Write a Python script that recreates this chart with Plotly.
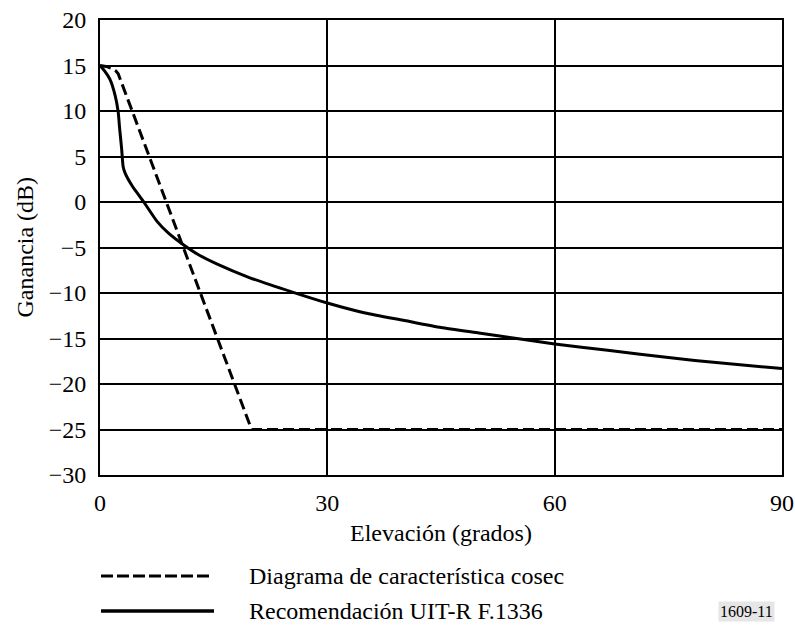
import plotly.graph_objects as go

# Data
elev_cosec = [0, 0.8, 1.5, 2.1, 2.4, 20, 90]
gain_cosec = [15, 14.9, 14.7, 14.4, 14.1, -25, -25]

elev_f1336 = [0, 0.6, 1.3, 2.0, 2.4, 2.6, 2.85, 3.05, 3.3, 4.3, 5.7, 7.5, 9.0, 11, 13, 15.4,
              19.7, 25.4, 30, 35, 40, 45, 50, 55, 60, 67, 75, 82, 90]
gain_f1336 = [15, 14.4, 13.5, 11.7, 9.9, 8.0, 5.9, 3.9, 3.2, 1.7, 0.1, -2.1, -3.4, -4.7, -5.8, -6.8,
              -8.3, -9.9, -11.1, -12.2, -13.0, -13.8, -14.4, -15.0, -15.6, -16.3, -17.1, -17.7, -18.3]

x_ticks = [0, 30, 60, 90]
y_ticks = list(range(-30, 21, 5))

series_names = ["Diagrama de característica cosec", "Recomendación UIT-R F.1336"]
fig_label = "1609-11"
x_title = "Elevación (grados)"
y_title = "Ganancia (dB)"

FONT = "Liberation Serif, Times New Roman, serif"
FS = 24

fig = go.Figure()
fig.add_trace(go.Scatter(x=elev_cosec, y=gain_cosec, mode="lines",
                         line=dict(color="black", width=3, dash="11px,5px"),
                         name=series_names[0], showlegend=False))
fig.add_trace(go.Scatter(x=elev_f1336, y=gain_f1336, mode="lines",
                         line=dict(color="black", width=3, shape="spline", smoothing=0.5),
                         name=series_names[1], showlegend=False))

fig.update_layout(
    width=795, height=629,
    margin=dict(l=100, r=13, t=20, b=154),
    paper_bgcolor="white", plot_bgcolor="white",
    font=dict(family=FONT, size=FS, color="black"),
    xaxis=dict(range=[0, 90], tickvals=x_ticks, showgrid=True, gridcolor="black", gridwidth=2,
               showline=True, linecolor="black", linewidth=2, mirror=True, automargin=False,
               zeroline=False, ticks="", ticklabelstandoff=5,
               tickfont=dict(family=FONT, size=FS)),
    yaxis=dict(range=[-30, 20], tickvals=y_ticks, showgrid=True, gridcolor="black", gridwidth=2,
               showline=True, linecolor="black", linewidth=2, mirror=True, automargin=False,
               zeroline=False, ticks="", ticklabelstandoff=7,
               tickfont=dict(family=FONT, size=FS)),
)

def py(p):
    return (475 - p) / 455.0

def px(p):
    return (p - 100) / 682.0

ROW1, ROW2 = 576, 611

annotations = [
    dict(text=x_title, x=0.5, y=py(533), xref="paper", yref="paper",
         xanchor="center", yanchor="middle", showarrow=False, font=dict(family=FONT, size=24)),
    dict(text=y_title, x=px(24), y=0.5, xref="paper", yref="paper", textangle=-90,
         xanchor="center", yanchor="middle", showarrow=False, font=dict(family=FONT, size=24)),
    dict(text=series_names[0], x=px(247), y=py(ROW1), xref="paper", yref="paper",
         xanchor="left", yanchor="middle", showarrow=False, font=dict(family=FONT, size=24)),
    dict(text=series_names[1], x=px(247), y=py(ROW2), xref="paper", yref="paper",
         xanchor="left", yanchor="middle", showarrow=False, font=dict(family=FONT, size=24)),
    dict(text=fig_label, x=px(746), y=py(ROW2), xref="paper", yref="paper",
         xanchor="center", yanchor="middle", showarrow=False, bgcolor="#e6e6e6",
         borderpad=1, font=dict(family=FONT, size=16)),
]
shapes = [
    dict(type="line", xref="paper", yref="paper", x0=px(101), x1=px(213), y0=py(ROW1), y1=py(ROW1),
         line=dict(color="black", width=3, dash="12px,4px")),
    dict(type="line", xref="paper", yref="paper", x0=px(101), x1=px(214), y0=py(ROW2), y1=py(ROW2),
         line=dict(color="black", width=3.5)),
]
fig.update_layout(annotations=annotations, shapes=shapes)

fig.write_html("out.html")
